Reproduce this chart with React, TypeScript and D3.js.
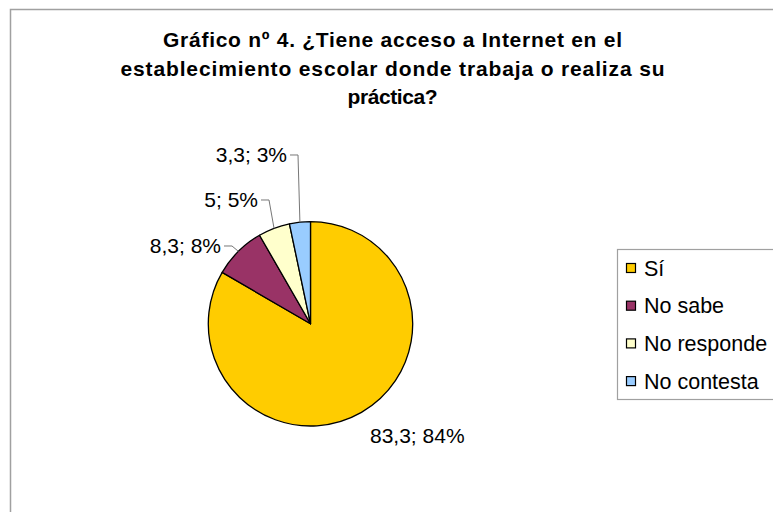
import React from "react";
import * as d3 from "d3";

const categories = ["Sí", "No sabe", "No responde", "No contesta"];
const values = [83.3, 8.3, 5, 3.3];
const percentLabels = ["84%", "8%", "5%", "3%"];
const colors = ["#FFCC00", "#993366", "#FFFFCC", "#99CCFF"];
const titleLines = [
  "Gráfico nº 4. ¿Tiene acceso a Internet en el",
  "establecimiento escolar donde trabaja o realiza su",
  "práctica?",
];

const W = 773;
const H = 512;
const FONT = "'Liberation Sans', Arial, sans-serif";

// layout (label placement relative to pie centre, as Excel positioned them)
const labelLayout = [
  { dx: 59.5, dy: 119, anchor: "start", leader: false },
  { dx: -89.5, dy: -77.8, anchor: "end", leader: true },
  { dx: -52.5, dy: -123.8, anchor: "end", leader: true },
  { dx: -23.5, dy: -168.8, anchor: "end", leader: true },
];
const titleWidths = [459, 544, 90];

export default function App() {
  const cx = 310.5;
  const cy = 323.8;
  const r = 102.2;

  const pie = d3
    .pie<number>()
    .sort(null)
    .value((d) => d)
    .startAngle(0)
    .endAngle(2 * Math.PI);
  const arcs = pie(values);
  const arc = d3.arc<d3.PieArcDatum<number>>().innerRadius(0).outerRadius(r);

  const fmt = (v: number) => String(v).replace(".", ",");

  const legendX = 617;
  const legendY = 249;
  const legendStep = 37.7;

  return (
    <svg
      width={W}
      height={H}
      style={{ position: "absolute", left: 0, top: 0, background: "#fff" }}
    >
      <rect x={10.5} y={9.5} width={800} height={600} fill="#fff" stroke="#a0a0a0" strokeWidth={1.5} />
      {titleLines.map((t, i) => (
        <text
          key={i}
          x={392.5}
          y={47 + i * 28.5}
          textAnchor="middle"
          fontFamily={FONT}
          fontWeight="bold"
          fontSize={21}
          textLength={titleWidths[i]}
          lengthAdjust="spacing"
          fill="#000"
        >
          {t}
        </text>
      ))}
      <g transform={`translate(${cx},${cy})`}>
        {arcs.map((a, i) => (
          <path
            key={i}
            d={arc(a) || ""}
            fill={colors[i]}
            stroke="#000"
            strokeWidth={1.3}
            strokeLinejoin="round"
          />
        ))}
        {arcs.map((a, i) => {
          const L = labelLayout[i];
          const mid = (a.startAngle + a.endAngle) / 2;
          const px = r * Math.sin(mid);
          const py = -r * Math.cos(mid);
          const label = `${fmt(values[i])}; ${percentLabels[i]}`;
          return (
            <g key={i}>
              {L.leader && (
                <path
                  d={`M${L.dx + 3},${L.dy}L${L.dx + 11},${L.dy}L${px},${py}`}
                  fill="none"
                  stroke="#777"
                  strokeWidth={1}
                />
              )}
              <text
                x={L.dx}
                y={L.leader ? L.dy + 7 : L.dy}
                textAnchor={L.anchor as any}
                fontFamily={FONT}
                fontSize={21}
                fill="#000"
              >
                {label}
              </text>
            </g>
          );
        })}
      </g>
      <rect
        x={legendX + 0.5}
        y={legendY + 0.5}
        width={200}
        height={150}
        fill="#fff"
        stroke="#a0a0a0"
        strokeWidth={1.2}
      />
      {categories.map((c, i) => {
        const yc = 268 + i * legendStep;
        return (
          <g key={c}>
            <rect x={626.5} y={yc - 4.5} width={9} height={9} fill={colors[i]} stroke="#000" strokeWidth={1.2} />
            <text x={644} y={yc + 7.5} fontFamily={FONT} fontSize={21.5} fill="#000">
              {c}
            </text>
          </g>
        );
      })}
    </svg>
  );
}
